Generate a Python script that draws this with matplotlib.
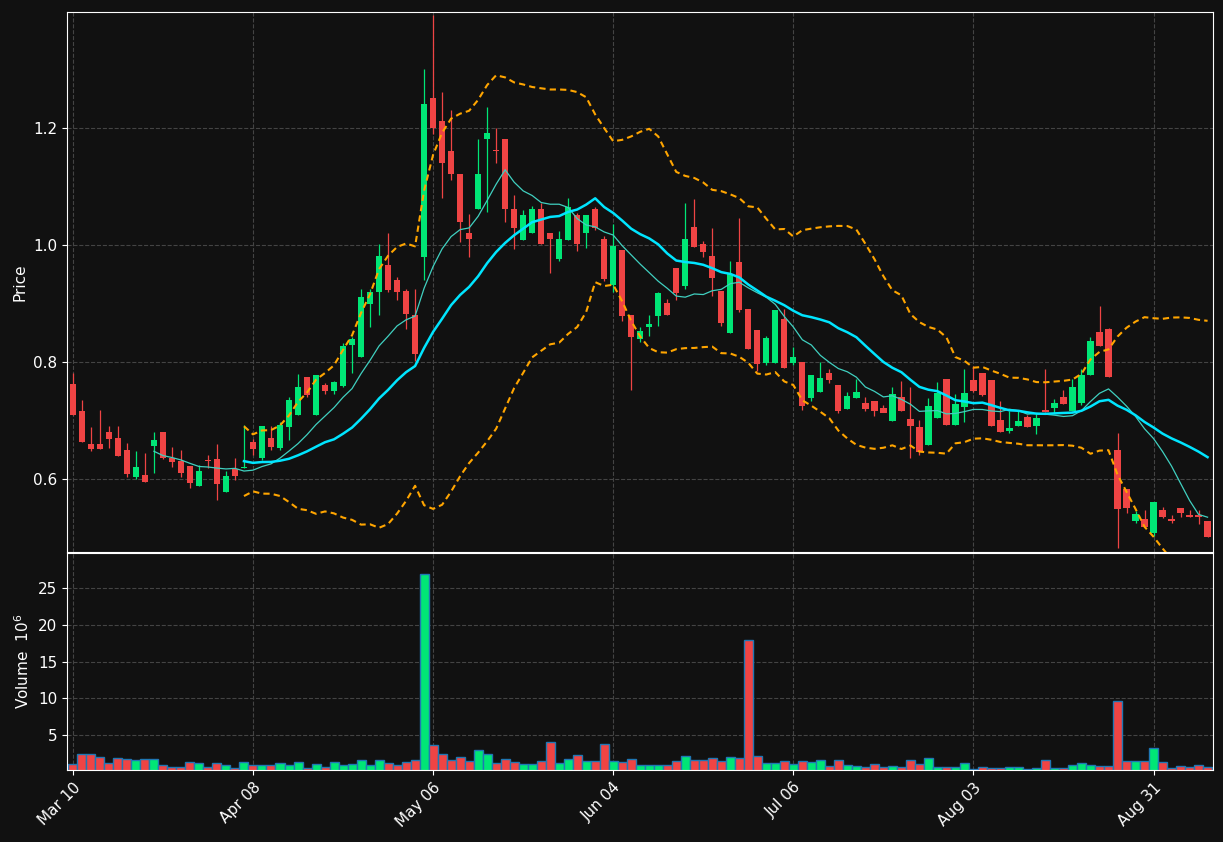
import matplotlib
matplotlib.use("Agg")
import matplotlib.pyplot as plt
import numpy as np
import pandas as pd

opens = [.762,.716,.660,.660,.680,.670,.650,.603,.607,.656,.680,.636,.631,.622,.588,.632,.634,.578,.617,.619,
         .663,.636,.670,.653,.689,.709,.774,.709,.761,.750,.759,.829,.809,.899,.920,.966,.940,.921,.880,.980,
         1.251,1.212,1.161,1.121,1.021,1.061,1.181,1.161,1.181,1.061,1.009,1.021,1.061,1.021,.976,1.009,1.051,1.021,1.061,1.010,
         .932,.991,.880,.839,.860,.879,.901,.960,.930,1.031,1.002,.981,.921,.850,.971,.891,.855,.798,.798,.874,
         .798,.800,.738,.749,.781,.761,.720,.738,.730,.733,.721,.699,.740,.703,.689,.658,.704,.771,.692,.723,
         .769,.781,.769,.701,.682,.691,.706,.691,.718,.721,.740,.716,.730,.778,.851,.856,.650,.583,.528,.532,
         .508,.547,.532,.550,.538,.538,.528]
highs = [.781,.735,.689,.718,.690,.690,.661,.648,.645,.680,.680,.655,.650,.622,.623,.641,.659,.614,.636,.692,
         .668,.691,.690,.697,.740,.780,.774,.778,.764,.768,.832,.842,.925,.925,1.002,1.021,.945,.925,.925,1.301,
         1.393,1.262,1.230,1.121,1.052,1.181,1.236,1.200,1.181,1.085,1.060,1.067,1.072,1.021,1.023,1.080,1.055,1.051,1.065,1.015,
         1.036,.991,.880,.860,.880,.920,.908,.960,1.072,1.079,1.006,1.029,.921,.973,1.046,.891,.855,.845,.888,.890,
         .825,.800,.778,.800,.788,.761,.749,.771,.740,.733,.727,.757,.768,.757,.700,.738,.765,.771,.745,.787,
         .793,.781,.769,.733,.716,.718,.710,.711,.788,.737,.752,.770,.787,.842,.895,.858,.679,.583,.545,.547,
         .561,.552,.538,.550,.547,.547,.528]
lows = [.709,.663,.648,.651,.653,.639,.603,.600,.595,.610,.634,.620,.604,.585,.588,.618,.564,.578,.598,.618,
        .640,.632,.650,.650,.667,.709,.740,.709,.745,.745,.757,.781,.809,.859,.880,.920,.905,.856,.802,.940,
        1.190,1.080,1.111,1.005,.980,1.061,1.056,1.140,1.039,.993,1.009,1.021,1.001,.952,.973,1.009,.990,.995,1.025,.938,
        .920,.870,.752,.834,.845,.862,.880,.905,.925,.997,.980,.913,.862,.850,.885,.822,.785,.795,.798,.790,
        .795,.718,.733,.749,.764,.713,.720,.738,.716,.707,.714,.699,.716,.636,.640,.658,.704,.692,.692,.697,
        .748,.741,.690,.680,.678,.691,.689,.676,.715,.712,.728,.716,.726,.778,.827,.774,.482,.541,.525,.516,
        .502,.533,.525,.534,.534,.523,.500]
closes = [.709,.663,.651,.651,.668,.639,.609,.620,.595,.667,.636,.629,.610,.593,.614,.630,.591,.605,.605,.621,
          .651,.691,.655,.692,.735,.757,.744,.778,.750,.766,.827,.839,.911,.920,.981,.923,.920,.882,.814,1.241,
          1.200,1.140,1.121,1.039,1.010,1.121,1.191,1.160,1.061,1.029,1.051,1.061,1.001,1.010,1.010,1.065,1.001,1.051,1.029,.942,
          .998,.879,.843,.853,.865,.918,.880,.918,1.010,.997,.988,.944,.867,.950,.889,.822,.797,.841,.888,.790,
          .809,.725,.778,.773,.769,.716,.742,.749,.720,.716,.713,.745,.716,.691,.646,.725,.747,.692,.728,.747,
          .750,.744,.691,.680,.687,.699,.689,.704,.715,.730,.728,.757,.778,.836,.827,.774,.549,.550,.540,.518,
          .561,.535,.528,.542,.535,.535,.501]
volumes = [1.0,2.4,2.4,1.96,1.15,1.83,1.69,1.56,1.69,1.69,0.87,0.69,0.69,1.28,1.15,0.6,1.15,0.87,0.47,1.28,
           0.87,0.87,0.87,1.15,0.87,1.28,0.47,1.0,0.6,1.28,0.87,1.0,1.56,0.87,1.56,1.15,0.87,1.28,1.56,27.0,
           3.64,2.4,1.56,1.96,1.42,2.92,2.4,1.15,1.69,1.28,1.0,1.0,1.42,4.0,1.15,1.69,2.24,1.42,1.42,3.73,
           1.42,1.28,1.69,0.87,0.87,0.87,0.87,1.42,2.1,1.56,1.56,1.83,1.42,1.96,1.83,17.9,2.1,1.15,1.15,1.42,
           1.0,1.42,1.28,1.56,0.74,1.56,0.87,0.74,0.6,1.0,0.6,0.74,0.6,1.56,1.0,1.83,0.6,0.6,0.6,1.15,
           0.33,0.6,0.47,0.47,0.6,0.6,0.33,0.47,1.56,0.47,0.47,0.87,1.15,0.87,0.74,0.74,9.6,1.42,1.42,1.42,
           3.19,1.28,0.47,0.74,0.6,0.87,0.6]
tick_pos = [0, 20, 40, 60, 80, 100, 120]
tick_labels = ["Mar 10", "Apr 08", "May 06", "Jun 04", "Jul 06", "Aug 03", "Aug 31"]

BG = "#111111"
UP = "#00e676"
DN = "#ef4444"
fig = plt.figure(figsize=(12.23, 8.42), dpi=100, facecolor=BG)
ax = fig.add_axes([0.0548, 0.3444, 0.937, 0.6413], facecolor=BG)
axv = fig.add_axes([0.0548, 0.0855, 0.937, 0.2577], facecolor=BG, sharex=ax)

o, h, l, c = map(np.array, (opens, highs, lows, closes))
x = np.arange(len(c))
col = [UP if cc >= oo else DN for oo, cc in zip(o, c)]
ax.vlines(x, l, h, colors=col, linewidth=0.9, zorder=2)
ax.bar(x, np.maximum(np.abs(c - o), 0.002), bottom=np.minimum(o, c), width=0.7, color=col, zorder=3)

s = pd.Series(c)
ma10 = s.rolling(10).mean()
ma20 = s.rolling(20).mean()
sd = s.rolling(20).std(ddof=0)
ax.plot(x, ma10, color="#40d0c0", lw=0.9, zorder=4)
ax.plot(x, ma20, color="#00e5ff", lw=1.8, zorder=4)
ax.plot(x, ma20 + 2 * sd, color="#ffa500", lw=1.5, ls=(0, (3, 2)), zorder=4)
ax.plot(x, ma20 - 2 * sd, color="#ffa500", lw=1.5, ls=(0, (3, 2)), zorder=4)

axv.bar(x, volumes, width=1.0, color=col, edgecolor="#1f77b4", linewidth=1.0)

ax.set_xlim(-0.65, 126.6)
ax.set_ylim(0.475, 1.398)
axv.set_ylim(0.24, 29.8)
ax.set_yticks([0.6, 0.8, 1.0, 1.2])
axv.set_yticks([5, 10, 15, 20, 25])
axv.set_xticks(tick_pos)
axv.set_xticklabels(tick_labels, rotation=45, ha="right", rotation_mode="anchor")
plt.setp(ax.get_xticklabels(), visible=False)
ax.set_ylabel("Price", color="white", fontsize=11)
axv.set_ylabel("Volume  $10^6$", color="white", fontsize=11)
for a in (ax, axv):
    a.grid(True, color="#444444", ls="--", lw=0.8)
    a.set_axisbelow(True)
    a.tick_params(colors="white", labelsize=11)
    for sp in a.spines.values():
        sp.set_color("white")
ax.tick_params(axis="x", length=0)
fig.savefig("out.png", dpi=100, facecolor=BG)
